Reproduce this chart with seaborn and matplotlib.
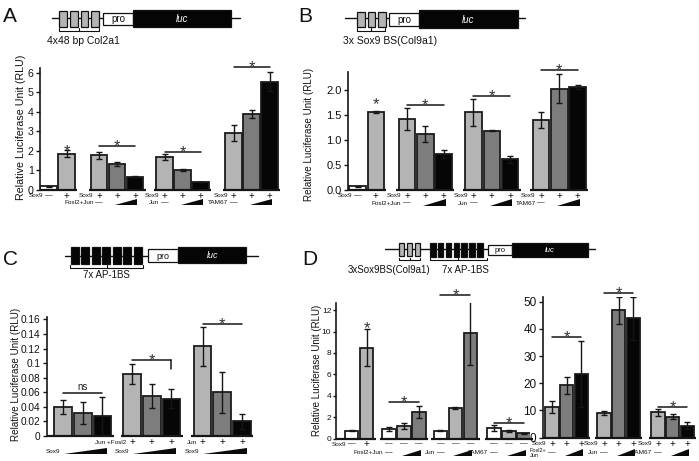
import numpy as np
import pandas as pd
import seaborn as sns
import matplotlib
matplotlib.use("Agg")
import matplotlib.pyplot as plt
from matplotlib.patches import Rectangle, Polygon
import matplotlib.transforms as mtransforms

# ======================= DATA =======================
# Panel A : 4x48 bp Col2a1 reporter
A_values = [0.18, 1.86, 1.78, 1.31, 0.68, 1.69, 1.02, 0.40, 2.92, 3.90, 5.54]
A_errors = [0.03, 0.17, 0.17, 0.10, 0.04, 0.14, 0.03, 0.00, 0.43, 0.21, 0.47]
A_levels = ["none", "base", "base", "low", "high", "base", "low", "high", "base", "low", "high"]
A_group_sizes = [2, 3, 3, 3]
A_yticks = [0, 1, 2, 3, 4, 5, 6]
A_yticklabels = ["0", "1", "2", "3", "4", "5", "6"]
A_sig = [(1, 1, 2.21, "*", None), (2, 4, 2.25, "*", None), (5, 7, 1.95, "*", None), (8, 10, 6.27, "*", None)]
A_row1 = [("Sox9", ["—", "+"]), ("Sox9", ["+", "+", "+"]), ("Sox9", ["+", "+", "+"]), ("Sox9", ["+", "+", "+"])]
A_row2 = [None, "Fosl2+Jun", "Jun", "TAM67"]

# Panel B : 3x Sox9 BS(Col9a1) reporter
B_values = [0.07, 1.55, 1.42, 1.11, 0.71, 1.55, 1.18, 0.61, 1.39, 2.02, 2.05]
B_errors = [0.01, 0.02, 0.22, 0.16, 0.08, 0.27, 0.01, 0.07, 0.16, 0.29, 0.04]
B_levels = ["none", "base", "base", "low", "high", "base", "low", "high", "base", "low", "high"]
B_group_sizes = [2, 3, 3, 3]
B_yticks = [0.0, 0.5, 1.0, 1.5, 2.0]
B_yticklabels = ["0.0", "0.5", "1.0", "1.5", "2.0"]
B_sig = [(1, 1, 1.80, "*", None), (2, 4, 1.70, "*", None), (5, 7, 1.87, "*", None), (8, 10, 2.39, "*", None)]
B_row1 = [("Sox9", ["—", "+"]), ("Sox9", ["+", "+", "+"]), ("Sox9", ["+", "+", "+"]), ("Sox9", ["+", "+", "+"])]
B_row2 = [None, "Fosl2+Jun", "Jun", "TAM67"]

# Panel C : 7x AP-1BS reporter
C_values = [0.040, 0.031, 0.027, 0.085, 0.055, 0.051, 0.123, 0.060, 0.020]
C_errors = [0.010, 0.015, 0.026, 0.014, 0.017, 0.013, 0.027, 0.028, 0.010]
C_levels = ["base", "low", "high", "base", "low", "high", "base", "low", "high"]
C_group_sizes = [3, 3, 3]
C_yticks = [0, 0.02, 0.04, 0.06, 0.08, 0.10, 0.12, 0.14, 0.16]
C_yticklabels = ["0", "0.02", "0.04", "0.06", "0.08", "0.1", "0.12", "0.14", "0.16"]
C_sig = [(0, 2, 0.0587, "ns", None), (3, 5, 0.104, "*", 0.092), (6, 8, 0.153, "*", None)]
C_row1 = [None, ("Jun +Fosl2", ["+", "+", "+"]), ("Jun", ["+", "+", "+"])]
C_row2 = ["Sox9", "Sox9", "Sox9"]

# Panel D (left) : 3xSox9BS(Col9a1) + 7x AP-1BS reporter
DL_values = [0.73, 8.49, 0.92, 1.17, 2.45, 0.73, 2.82, 9.83, 0.95, 0.70, 0.49]
DL_errors = [0.05, 1.75, 0.20, 0.25, 0.55, 0.05, 0.10, 3.00, 0.27, 0.10, 0.05]
DL_levels = ["none", "base", "none", "base", "low", "none", "base", "low", "none", "base", "low"]
DL_group_sizes = [2, 3, 3, 3]
DL_yticks = [0, 2, 4, 6, 8, 10, 12]
DL_yticklabels = ["0", "2", "4", "6", "8", "10", "12"]
DL_sig = [(1, 1, 10.77, "*", None), (2, 4, 3.38, "*", None), (5, 7, 13.4, "*", None), (8, 10, 1.42, "*", None)]
DL_row1 = [("Sox9", ["—", "+"]), (None, ["—", "—", "—"]), (None, ["—", "—", "—"]), (None, ["—", "—", "—"])]
DL_row2 = [None, "Fosl2+Jun", "Jun", "TAM67"]

# Panel D (right)
DR_values = [11.3, 19.3, 23.4, 8.9, 46.9, 43.9, 9.3, 7.7, 4.35]
DR_errors = [2.3, 3.1, 12.0, 0.7, 5.0, 8.0, 1.3, 0.9, 1.4]
DR_levels = ["base", "low", "high", "base", "low", "high", "base", "low", "high"]
DR_group_sizes = [3, 3, 3]
DR_yticks = [0, 10, 20, 30, 40, 50]
DR_yticklabels = ["0", "10", "20", "30", "40", "50"]
DR_sig = [(0, 2, 36.9, "*", None), (3, 5, 53.3, "*", None), (6, 8, 11.3, "*", None)]
DR_row1 = [("Sox9", ["+", "+", "+"]), ("Sox9", ["+", "+", "+"]), ("Sox9", ["+", "+", "+"])]
DR_row2 = ["Fosl2+\nJun", "Jun", "TAM67"]

YLABEL = "Relative Luciferase Unit (RLU)"

# ======================= STYLE / LAYOUT =======================
sns.set_theme(style="white")
plt.rcParams['font.family'] = ['Liberation Sans', 'DejaVu Sans']

W, H = 699, 461
LEVEL_COLORS = {"none": "#ffffff", "base": "#b4b4b4", "low": "#7d7d7d", "high": "#060606"}
EDGE = "#1c1c1c"
INK = "#161616"

fig = plt.figure(figsize=(W / 100, H / 100), dpi=100)
fig.patch.set_facecolor("white")
fig_px = mtransforms.Affine2D().scale(1, -1).translate(0, H)

ov = fig.add_axes([0, 0, 1, 1], zorder=-1)
ov.set_xlim(0, W)
ov.set_ylim(H, 0)
ov.axis("off")


def make_ax(left, top, right, bottom):
    return fig.add_axes([left / W, (H - bottom) / H, (right - left) / W, (bottom - top) / H])


def bar_panel(values, errors, levels, sizes, yticks, yticklabels, sig, row1, row2, row2_kind,
              rect, ytop, slot, first_px, ytick_fs, rows_y, wedge_y, star_fs=12, tick_len=3, tick_pad=1.5):
    left, top, right, bottom = rect
    ax = make_ax(*rect)
    pos, groups = [], []
    for g, n in enumerate(sizes):
        gp = [first_px[g] / slot + k for k in range(n)]
        groups.append(gp)
        pos.extend(gp)
    df = pd.DataFrame({"x": pos, "y": values, "level": levels})
    sns.barplot(data=df, x="x", y="y", hue="level", palette=LEVEL_COLORS, native_scale=True,
                dodge=False, width=0.9, saturation=1, errorbar=None, legend=False,
                edgecolor=EDGE, linewidth=1.3, ax=ax)
    ax.errorbar(pos, values, yerr=errors, fmt="none", ecolor=INK, elinewidth=1.0,
                capsize=2.2, capthick=1.0, zorder=4)
    ax.set_xlim(left / slot, right / slot)
    ax.set_ylim(0, ytop)
    ax.set_xticks([])
    ax.set_xlabel("")
    ax.set_ylabel("")
    ax.set_yticks(yticks)
    ax.set_yticklabels(yticklabels)
    ax.tick_params(axis="y", left=True, length=tick_len, width=1.0, color=INK, labelsize=ytick_fs,
                   pad=tick_pad, labelcolor="#111")
    for s in ["top", "right", "bottom"]:
        ax.spines[s].set_visible(False)
    ax.spines["left"].set_color(INK)
    ax.spines["left"].set_linewidth(1.2)
    ax.patch.set_alpha(0)
    px = 1.0 / slot
    for g, gp in enumerate(groups):
        x0 = left / slot if g == 0 else gp[0] - 0.5 - 1.5 * px
        x1 = gp[-1] + 0.5 + 1.5 * px
        ax.plot([x0, x1], [0, 0], color=INK, lw=1.6, clip_on=False, solid_capstyle="butt", zorder=5)
    em = star_fs * 100 / 72.0
    for (i, j, y, lab, drop) in sig:
        xm = (pos[i] + pos[j]) / 2
        if lab == "ns":
            ax.plot([pos[i], pos[j]], [y, y], color=INK, lw=1.1, clip_on=False)
            ax.annotate(lab, xy=(xm, y), xytext=(0, 3), textcoords="offset pixels", ha="center",
                        va="baseline", fontsize=7, color="#222", annotation_clip=False)
            continue
        if i != j:
            ax.plot([pos[i], pos[j]], [y, y], color=INK, lw=1.1, clip_on=False)
            if drop is not None:
                ax.plot([pos[j], pos[j]], [y, drop], color=INK, lw=1.1, clip_on=False)
            off = 4.5 - 0.575 * em
        else:
            off = -0.575 * em
        ax.annotate(lab, xy=(xm, y), xytext=(0, off), textcoords="offset pixels", ha="center",
                    va="baseline", fontsize=star_fs, color="#333", annotation_clip=False)
    tr = mtransforms.blended_transform_factory(ax.transData, fig_px)
    y1, y2 = rows_y
    for g, gp in enumerate(groups):
        r1 = row1[g]
        if r1 is not None:
            prefix, syms = r1
            for k, s in enumerate(syms):
                ax.text(gp[k], y1, s, transform=tr, ha="center", va="center",
                        fontsize=7 if s == "+" else 5.5, color="#111")
            if prefix:
                ax.text(gp[0] - 5.5 * px, y1, prefix, transform=tr, ha="right", va="center",
                        fontsize=4.6, color="#111")
        r2 = row2[g]
        if r2 is None:
            continue
        if row2_kind == "dash":
            ax.text(gp[0], y2, "—", transform=tr, ha="center", va="center", fontsize=5.5, color="#111")
            ax.text(gp[0] - 5.5 * px, y2, r2, transform=tr, ha="right", va="center",
                    fontsize=4.6 if "\n" not in r2 else 4.0, color="#111", linespacing=1.0,
                    multialignment="left")
            xw0, xw1 = gp[1] - 2 * px, gp[-1] + 2 * px
        else:
            xw0, xw1 = gp[0] + 1 * px, gp[-1] + 5 * px
            ax.text(xw0 - 4 * px, y2, r2, transform=tr, ha="right", va="center",
                    fontsize=4.6, color="#111")
        wt, wb = wedge_y
        ax.add_patch(Polygon([(xw0, wb), (xw1, wb), (xw1, wt)], closed=True, transform=tr,
                             facecolor="#0a0a0a", edgecolor="none", clip_on=False))
    return ax


# Panel A
bar_panel(A_values, A_errors, A_levels, A_group_sizes, A_yticks, A_yticklabels, A_sig, A_row1, A_row2,
          "dash", rect=(40, 68, 280, 190), ytop=6.24, slot=18.0, first_px=[48.5, 99, 164.5, 233.5],
          ytick_fs=7.7, rows_y=(195.5, 202.5), wedge_y=(198.5, 205))
# Panel B
bar_panel(B_values, B_errors, B_levels, B_group_sizes, B_yticks, B_yticklabels, B_sig, B_row1, B_row2,
          "dash", rect=(348, 72, 590, 190), ytop=2.36, slot=18.3, first_px=[357.5, 407, 473.5, 541],
          ytick_fs=8, rows_y=(195.5, 203), wedge_y=(199, 205.5))
# Panel C
bar_panel(C_values, C_errors, C_levels, C_group_sizes, C_yticks, C_yticklabels, C_sig, C_row1, C_row2,
          "full", rect=(46.7, 317.3, 252, 436), ytop=0.1628, slot=19.7, first_px=[63, 132, 202.5],
          ytick_fs=7.3, rows_y=(442, 451), wedge_y=(447.5, 454))
# Panel D left
bar_panel(DL_values, DL_errors, DL_levels, DL_group_sizes, DL_yticks, DL_yticklabels, DL_sig, DL_row1,
          DL_row2, "dash", rect=(335.5, 303.3, 530, 438.5), ytop=12.64, slot=15.0,
          first_px=[351.5, 389, 440.5, 494], ytick_fs=6.0, rows_y=(444, 452.7), wedge_y=(449.5, 455.7),
          tick_len=2, tick_pad=1.0)
# Panel D right
bar_panel(DR_values, DR_errors, DR_levels, DR_group_sizes, DR_yticks, DR_yticklabels, DR_sig, DR_row1,
          DR_row2, "dash", rect=(542.7, 296.7, 695, 437.5), ytop=51.84, slot=14.6,
          first_px=[552, 604, 658], ytick_fs=8.5, rows_y=(443.5, 452.7), wedge_y=(449.3, 455.7))

# y-axis titles
for (x, y, fs) in [(21, 127, 7.7), (309, 134, 7.1), (16.5, 374, 7.1), (317.5, 370, 7.0)]:
    ov.text(x, y, YLABEL, rotation=90, ha="center", va="center", fontsize=fs, color="#111")

# panel letters
for (x, y, t) in [(3, 22, "A"), (298, 22, "B"), (3, 265, "C"), (302, 265, "D")]:
    ov.text(x, y, t, ha="left", va="baseline", fontsize=15, color="#111")


# ---------------- reporter construct schematics ----------------
def box(x0, x1, y0, y1, fc):
    ov.add_patch(Rectangle((x0, y0), x1 - x0, y1 - y0, facecolor=fc, edgecolor="#111", lw=0.9, zorder=3))


def bracket(x0, x1, y, tick=2.5):
    ov.plot([x0, x0, x1, x1], [y - tick, y, y, y - tick], color="#111", lw=0.8, zorder=3)
    ov.plot([(x0 + x1) / 2] * 2, [y, y - tick], color="#111", lw=0.8, zorder=3)


def construct(line_x, line_y, sites, pro, luc, fs_pl):
    ov.plot(line_x, [line_y, line_y], color="#111", lw=1.0, zorder=2)
    for (start, period, width, n, y0, y1, fc) in sites:
        for k in range(n):
            box(start + k * period, start + k * period + width, y0, y1, fc)
    box(pro[0], pro[1], pro[2], pro[3], "white")
    box(luc[0], luc[1], luc[2], luc[3], "#050505")
    ov.text((pro[0] + pro[1]) / 2, (pro[2] + pro[3]) / 2 + 0.5, "pro", ha="center", va="center",
            fontsize=fs_pl, color="#111", zorder=4)
    ov.text((luc[0] + luc[1]) / 2, (luc[2] + luc[3]) / 2 + 0.5, "luc", ha="center", va="center",
            fontsize=fs_pl, color="white", style="italic", zorder=4)


# A
construct((52, 240), 18, [(59.3, 10.7, 7.5, 4, 10.7, 26.7, "#b4b4b4")], (103, 133, 12.7, 25),
          (133, 231, 10, 27.3), 7)
bracket(59.3, 98.7, 31)
ov.text(83, 44, "4x48 bp Col2a1", ha="center", va="baseline", fontsize=7.5, color="#111")
# B
construct((345, 525), 18.3, [(357.3, 10.5, 7.5, 3, 11.7, 27.3, "#b4b4b4")], (389.3, 419.3, 13.3, 26),
          (419.3, 517.7, 10, 28.3), 7)
bracket(357.3, 385.3, 31)
ov.text(390, 44, "3x Sox9 BS(Col9a1)", ha="center", va="baseline", fontsize=7.5, color="#111")
# C
construct((65, 258.3), 256, [(70.7, 10.5, 8.0, 7, 247.3, 264, "#050505")], (148.3, 178.3, 249.3, 262.3),
          (178.3, 246, 247.3, 263.3), 6.5)
bracket(70, 143.3, 267.5)
ov.text(106.7, 278.3, "7x AP-1BS", ha="center", va="baseline", fontsize=7, color="#111")
# D
construct((385, 595), 249.3, [(399.3, 7.9, 5.0, 3, 243.3, 256, "#b4b4b4"),
                              (430, 7.86, 5.6, 7, 242.7, 256.7, "#050505")],
          (488.3, 511.7, 245, 255), (511.7, 588.3, 242.7, 256.7), 5.5)
bracket(399.3, 420.3, 260)
bracket(429.5, 486.7, 260)
ov.text(389, 273.3, "3xSox9BS(Col9a1)", ha="center", va="baseline", fontsize=7, color="#111")
ov.text(465, 273.3, "7x AP-1BS", ha="center", va="baseline", fontsize=7, color="#111")

fig.savefig("out.png", dpi=100, facecolor="white")
